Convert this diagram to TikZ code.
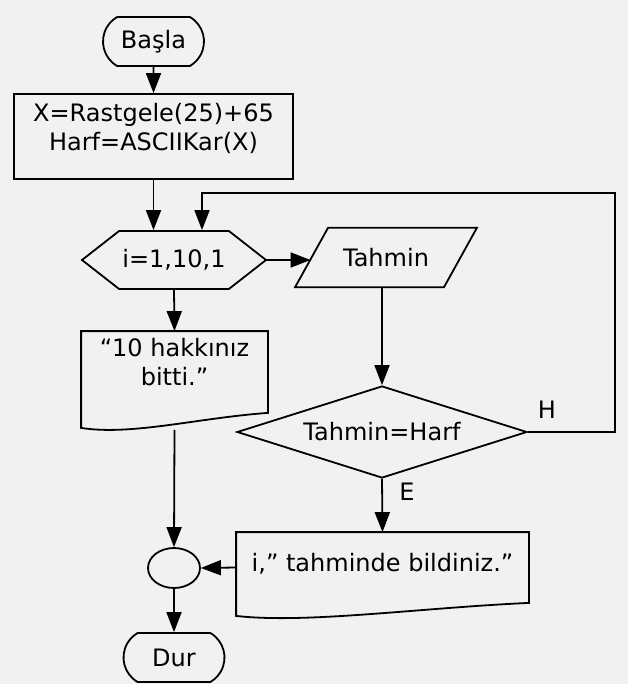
\documentclass[tikz,border=0pt]{standalone}
\usepackage{fontspec}
\setmainfont{DejaVu Sans}
\usetikzlibrary{shapes.geometric,shapes.misc,shapes.symbols,arrows.meta}
\definecolor{kagit}{RGB}{241,241,241}

\begin{document}
\begin{tikzpicture}[x=1pt,y=-1pt,
	line width=1.8pt,
	font=\fontsize{24}{29}\selectfont,
	uc/.style={draw, rounded rectangle, rounded rectangle arc length=120, minimum width=101pt, minimum height=49pt, inner sep=0pt},
	islem/.style={draw, rectangle, align=center, inner sep=0pt},
	hazirlik/.style={draw, signal, signal to=west and east, signal pointer angle=76, minimum width=184pt, minimum height=58pt, inner sep=0pt},
	giris/.style={draw, trapezium, trapezium left angle=61, trapezium right angle=119, inner xsep=15pt, inner ysep=20.5pt},
	secim/.style={draw, diamond, aspect=3, minimum width=290pt, minimum height=92pt, inner sep=0pt},
	belge/.style={rectangle, align=center, inner sep=0pt},
	baglanti/.style={draw, ellipse, minimum width=52pt, minimum height=40pt, inner sep=0pt},
	ok/.style={-{Triangle[length=20pt,width=15pt]}}]
	\path[use as bounding box, fill=kagit] (0,0) rectangle (628,684);
	% akis kutulari
	\node[uc] (basla) at (153.5,41.5) {Başla};
	\node[islem, minimum width=279pt, minimum height=85pt, text depth=19pt] (atama) at (153.5,136.5) {X=Rastgele(25)+65\\Harf=ASCIIKar(X)};
	\node[hazirlik] (dongu) at (174,260) {i=1,10,1};
	\node[giris] (tahmin) at (386,257.5) {Tahmin};
	\node[secim] (kontrol) at (382,432) {Tahmin=Harf};
	\node[belge, minimum width=185pt, minimum height=80pt, text depth=20pt] (bitti) at (174.5,372) {“10 hakkınız\\bitti.”};
	\node[belge, minimum width=291pt, minimum height=69pt, text depth=10pt] (bildi) at (382.5,567.5) {i,” tahminde bildiniz.”};
	\node[baglanti] (birlesme) at (174,568) {};
	\node[uc] (dur) at (174,657.5) {Dur};
	% belge sekli, alt kenar dalgali
	\foreach \b/\d/\p/\q in {bitti/15/70/50, bildi/13/110/70}
		\draw (\b.north west) -- (\b.north east) -- (\b.south east) .. controls +(-\p,5) and +(\q,8) .. ([yshift=-\d pt]\b.south west) -- cycle;
	% geri donus yolu
	\coordinate (sag) at (615,193);
	\coordinate (donus) at (202,193);
	\node (h) at (547,410) {H};
	\node (e) at (407,492) {E};
	% oklar
	\draw[ok] (basla) -- (atama);
	\draw[ok] (atama.south) -- (atama.south |- dongu.north);
	\draw[ok] (kontrol.east) -| (sag) -- (donus) -- (donus |- dongu.north);
	\draw[ok] (dongu.east) -- (dongu.east -| tahmin.west);
	\draw[ok] (kontrol.north |- tahmin.south) -- (kontrol.north);
	\draw[ok] (dongu.south) -- (bitti.north);
	\draw[ok] ([yshift=-17pt]bitti.south) -- (birlesme.north);
	\draw[ok] (kontrol.south) -- (bildi.north);
	\draw[ok] (bildi.west) -- (birlesme.east);
	\draw[ok] (birlesme.south) -- (dur.north);
\end{tikzpicture}
\end{document}
